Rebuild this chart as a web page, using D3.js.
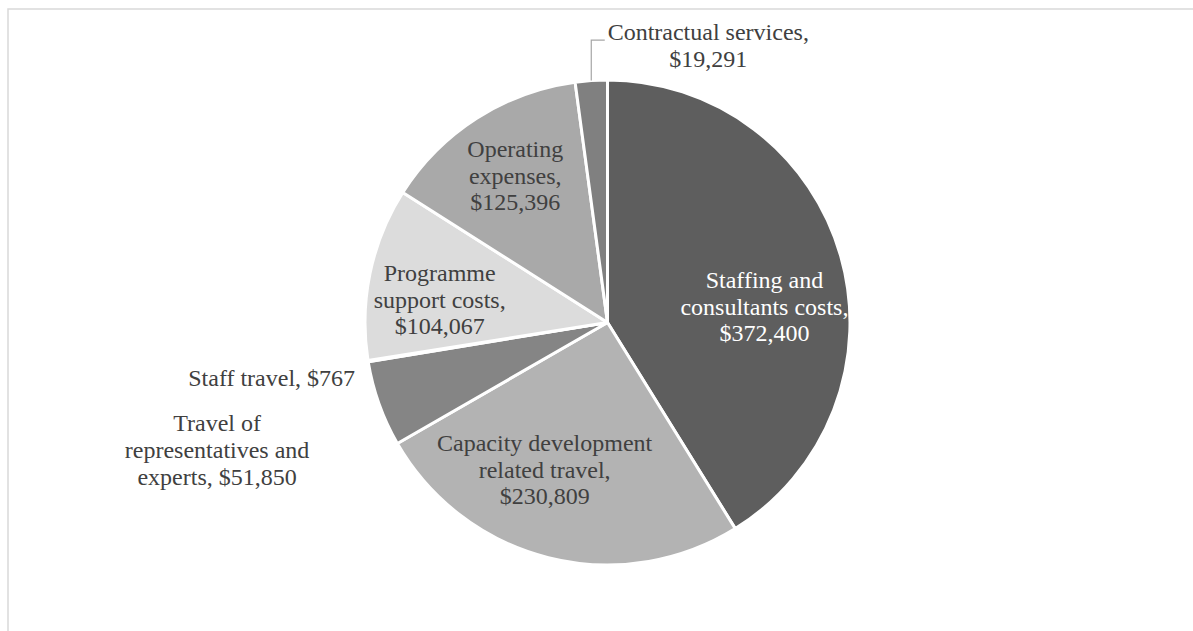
<!DOCTYPE html>
<html>
<head>
<meta charset="utf-8">
<script src="https://cdnjs.cloudflare.com/ajax/libs/d3/7.8.5/d3.min.js"></script>
<style>
	body { margin: 0; background: #fff; }
	svg { display: block; }
	.lbl { font-family: "Liberation Serif", "Times New Roman", serif; font-size: 24px; fill: #404040; }
</style>
</head>
<body>
<svg id="chart" width="1193" height="631"></svg>
<script>
// expenditure by category, clockwise from 12 o'clock
var categories = ["Staffing and consultants costs", "Capacity development related travel",
	"Travel of representatives and experts", "Staff travel", "Programme support costs",
	"Operating expenses", "Contractual services"];
var amounts = [372400, 230809, 51850, 767, 104067, 125396, 19291];
// how each label is broken into lines
var labelLines = [
	["Staffing and", "consultants costs,", "$372,400"],
	["Capacity development", "related travel,", "$230,809"],
	["Travel of", "representatives and", "experts, $51,850"],
	["Staff travel, $767"],
	["Programme", "support costs,", "$104,067"],
	["Operating", "expenses,", "$125,396"],
	["Contractual services,", "$19,291"]
];

var fills = ["#5e5e5e", "#b3b3b3", "#858585", "#858585", "#dcdcdc", "#a9a9a9", "#808080"];
var inside = [true, true, false, false, true, true, false];
var nudge = [[-4, 30], [-22, -15], [-162, 46], [-13, 17], [-4, 11], [-2, -6], [117, -35]];

var cx = 607.5,
	cy = 322.5,
	radius = 242.5,
	lineHeight = 26.7;

var svg = d3.select("#chart");

svg.append("rect")
	.attr("x", 8).attr("y", 9)
	.attr("width", 1300).attr("height", 700)
	.attr("fill", "none")
	.attr("stroke", "#d9d9d9")
	.attr("stroke-width", 1.5);

var pie = d3.pie().sort(null).value(function(d){ return d; });
var slices = pie(amounts);

var arc = d3.arc().innerRadius(0).outerRadius(radius);
var inArc = d3.arc().innerRadius(radius * 0.69).outerRadius(radius * 0.69);
var edgeArc = d3.arc().innerRadius(radius).outerRadius(radius);

var g = svg.append("g").attr("transform", "translate(" + cx + "," + cy + ")");

g.selectAll("path.slice")
	.data(slices)
	.enter().append("path")
	.attr("class", "slice")
	.attr("d", arc)
	.attr("fill", function(d, i){ return fills[i]; })
	.attr("stroke", "#fff")
	.attr("stroke-width", 3)
	.attr("stroke-linejoin", "round");

// leader for the small contractual slice
var cIdx = 6;
var p0 = edgeArc.centroid(slices[cIdx]);
var leaderTop = p0[1] - 40.5;
g.append("polyline")
	.attr("points", [[p0[0], p0[1]], [p0[0], leaderTop], [p0[0] + 13.5, leaderTop]].map(function(p){ return p.join(","); }).join(" "))
	.attr("fill", "none")
	.attr("stroke", "#a6a6a6")
	.attr("stroke-width", 1.2);

var labels = g.selectAll("text.lbl")
	.data(slices)
	.enter().append("text")
	.attr("class", "lbl")
	.attr("text-anchor", function(d, i){ return i === 3 ? "end" : "middle"; })
	.style("fill", function(d, i){ return i === 0 ? "#ffffff" : null; })
	.attr("transform", function(d, i){
		var c = inside[i] ? inArc.centroid(d) : edgeArc.centroid(d);
		return "translate(" + (c[0] + nudge[i][0]) + "," + (c[1] + nudge[i][1]) + ")";
	});

labels.each(function(d, i){
	var lines = labelLines[i];
	var t = d3.select(this);
	lines.forEach(function(s, k){
		t.append("tspan")
			.attr("x", 0)
			.attr("y", (k - (lines.length - 1) / 2) * lineHeight + 8)
			.text(s);
	});
});
</script>
</body>
</html>
